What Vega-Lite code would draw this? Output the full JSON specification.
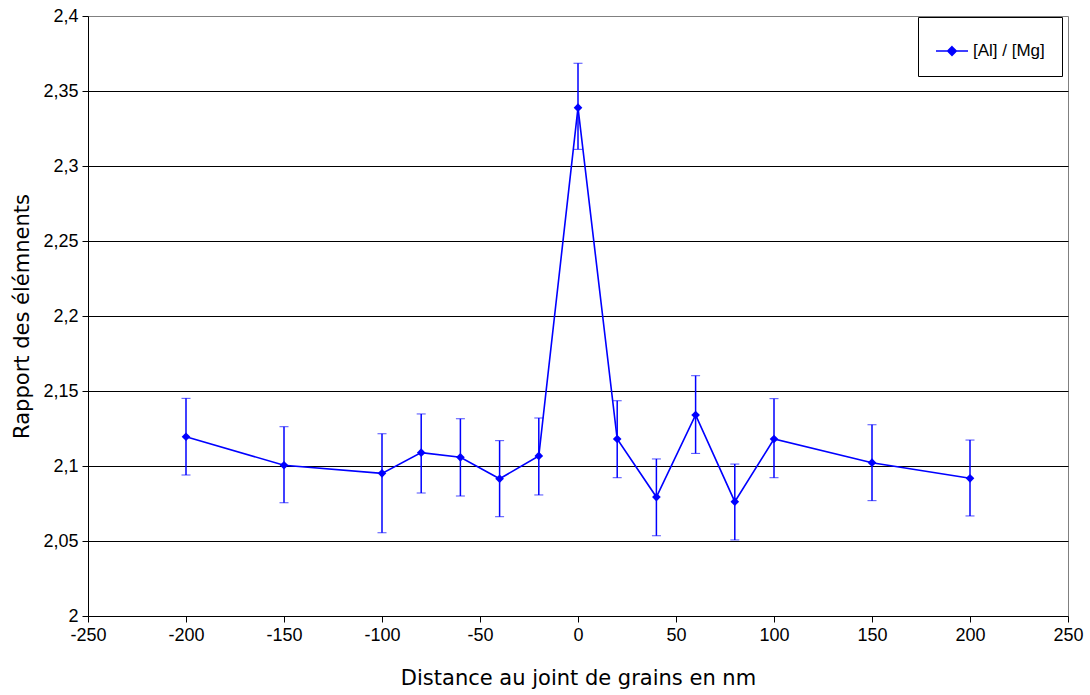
{
  "$schema": "https://vega.github.io/schema/vega-lite/v6.json",
  "width": 980,
  "height": 600,
  "autosize": {"type": "none"},
  "padding": {"left": 88, "top": 16, "right": 22, "bottom": 79},
  "background": "white",
  "config": {
    "view": {"stroke": "#808080", "strokeWidth": 1},
    "axis": {
      "labelFont": "Liberation Sans",
      "labelFontSize": 18,
      "labelColor": "black",
      "labelFlush": false,
      "labelOverlap": false,
      "titleFont": "DejaVu Sans",
      "titleFontSize": 21,
      "titleFontWeight": "normal",
      "titleColor": "black",
      "domainColor": "black",
      "tickColor": "black",
      "tickSize": 6
    }
  },
  "data": {
    "values": [
      {"dist": -200, "ratio": 2.1195, "lo": 2.094, "hi": 2.1451},
      {"dist": -150, "ratio": 2.1005, "lo": 2.0755, "hi": 2.1262},
      {"dist": -100, "ratio": 2.0951, "lo": 2.0555, "hi": 2.1215},
      {"dist": -80, "ratio": 2.1089, "lo": 2.082, "hi": 2.1347},
      {"dist": -60, "ratio": 2.1058, "lo": 2.08, "hi": 2.1315},
      {"dist": -40, "ratio": 2.0915, "lo": 2.0662, "hi": 2.1169},
      {"dist": -20, "ratio": 2.1067, "lo": 2.0807, "hi": 2.132},
      {"dist": 0, "ratio": 2.3389, "lo": 2.3111, "hi": 2.3685},
      {"dist": 20, "ratio": 2.118, "lo": 2.0922, "hi": 2.1435},
      {"dist": 40, "ratio": 2.0793, "lo": 2.0535, "hi": 2.1047},
      {"dist": 60, "ratio": 2.134, "lo": 2.1084, "hi": 2.1602},
      {"dist": 80, "ratio": 2.0762, "lo": 2.0507, "hi": 2.1013},
      {"dist": 100, "ratio": 2.118, "lo": 2.0922, "hi": 2.1449},
      {"dist": 150, "ratio": 2.1022, "lo": 2.0769, "hi": 2.1275},
      {"dist": 200, "ratio": 2.0918, "lo": 2.0667, "hi": 2.1173}
    ]
  },
  "layer": [
    {
      "mark": {"type": "errorbar", "ticks": {"size": 9, "color": "#0000ff", "strokeWidth": 1.5}, "rule": {"color": "#0000ff", "strokeWidth": 1.5}},
      "encoding": {
        "x": {
          "field": "dist", "type": "quantitative",
          "scale": {"domain": [-250, 250], "nice": false, "zero": false},
          "axis": {
            "title": "Distance au joint de grains en nm",
            "values": [-250, -200, -150, -100, -50, 0, 50, 100, 150, 200, 250],
            "labelExpr": "toString(datum.value)",
            "grid": false,
            "labelPadding": 4,
            "titlePadding": 23
          }
        },
        "y": {
          "field": "lo", "type": "quantitative",
          "scale": {"domain": [2, 2.4], "nice": false, "zero": false},
          "axis": {
            "title": "Rapport des élémnents",
            "values": [2, 2.05, 2.1, 2.15, 2.2, 2.25, 2.3, 2.35, 2.4],
            "labelExpr": "replace(format(datum.value, '.2~f'), '.', ',')",
            "grid": true,
            "gridColor": {"condition": {"test": "datum.value <= 2 || datum.value >= 2.4", "value": "transparent"}, "value": "black"},
            "gridWidth": 1,
            "labelPadding": 4,
            "titlePadding": 10
          }
        },
        "y2": {"field": "hi"}
      }
    },
    {
      "mark": {"type": "line", "strokeWidth": 1.6},
      "encoding": {
        "x": {"field": "dist", "type": "quantitative"},
        "y": {"field": "ratio", "type": "quantitative"},
        "color": {
          "datum": "[Al] / [Mg]",
          "type": "nominal",
          "scale": {"range": ["#0000ff"]},
          "legend": {
            "title": null,
            "orient": "none",
            "legendX": 830,
            "legendY": 1,
            "strokeColor": "black",
            "fillColor": "white",
            "padding": 17,
            "labelFont": "Liberation Sans",
            "labelFontSize": 17,
            "labelColor": "black",
            "labelOffset": 4,
            "symbolType": "M-1,0H1M0,-0.27L0.27,0L0,0.27L-0.27,0Z",
            "symbolSize": 1024,
            "symbolStrokeWidth": 1.5,
            "symbolFillColor": "#0000ff",
            "symbolStrokeColor": "#0000ff"
          }
        }
      }
    },
    {
      "mark": {"type": "point", "shape": "diamond", "filled": true, "size": 75, "color": "#0000ff", "opacity": 1},
      "encoding": {
        "x": {"field": "dist", "type": "quantitative"},
        "y": {"field": "ratio", "type": "quantitative"}
      }
    }
  ]
}
